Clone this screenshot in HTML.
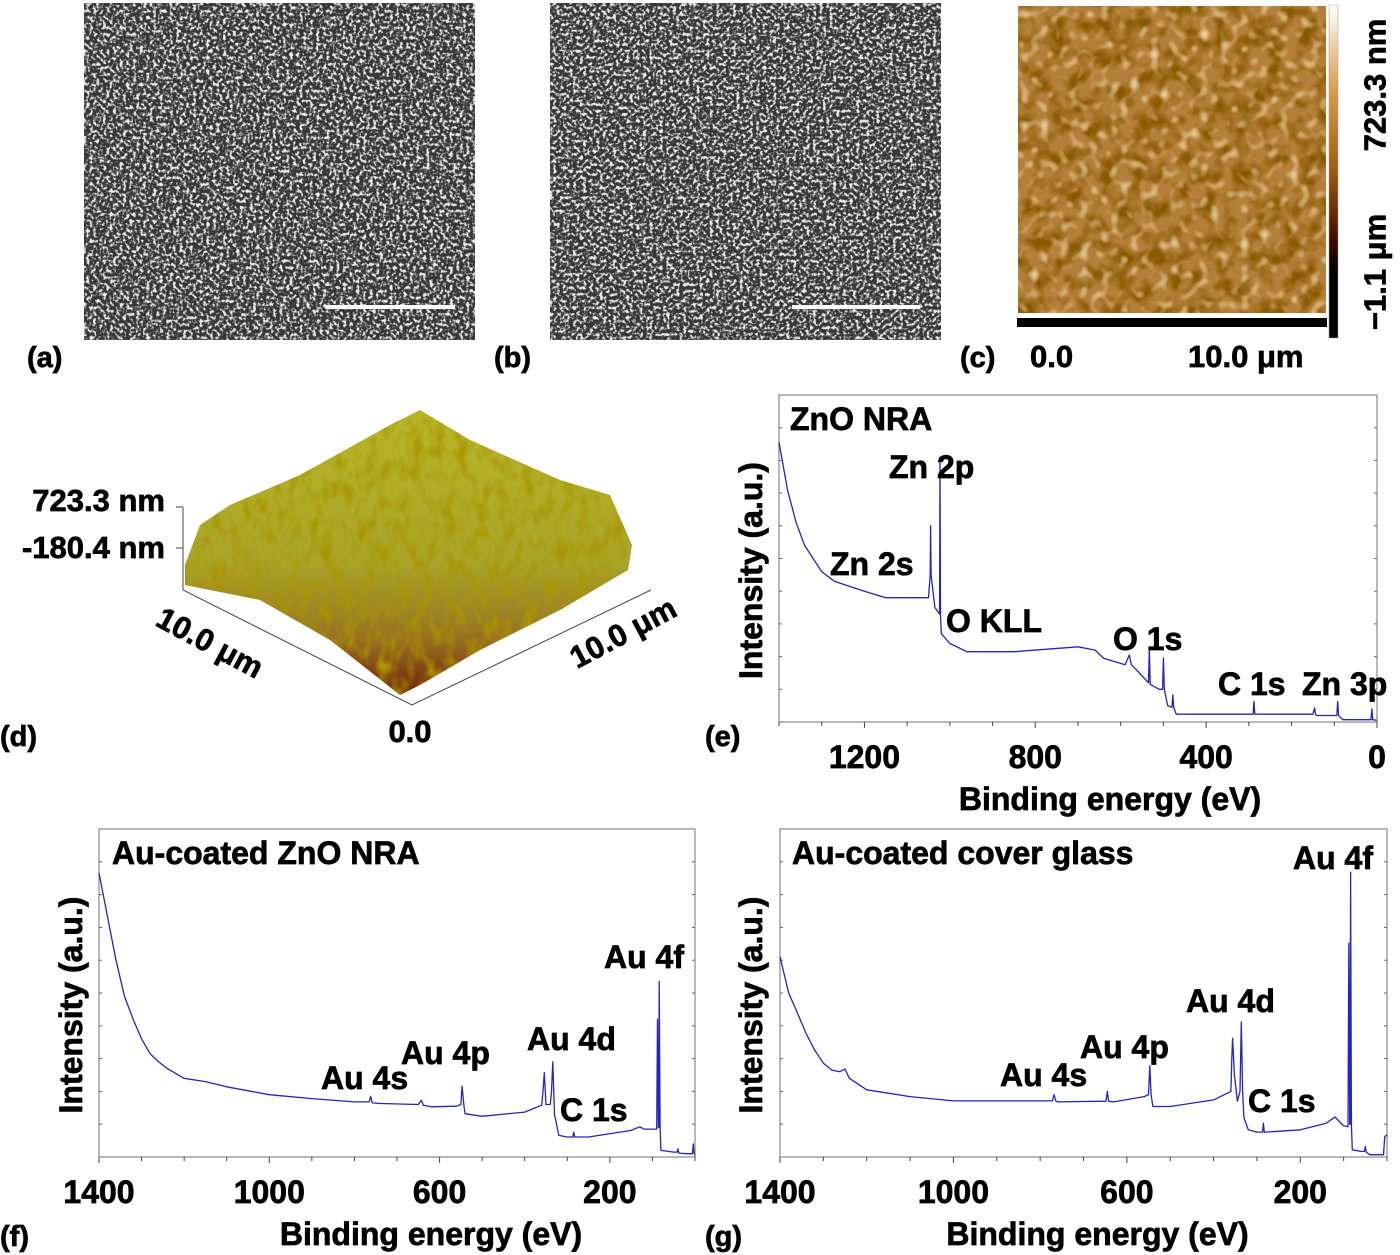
<!DOCTYPE html>
<html><head><meta charset="utf-8">
<style>
html,body{margin:0;padding:0;background:#fff;}
svg{display:block;font-family:"Liberation Sans",Arial,sans-serif;font-weight:bold;}
svg text{font-weight:bold;stroke:#000;stroke-width:0.7px;}
</style></head>
<body>
<svg id="fig" width="1400" height="1255" viewBox="0 0 1400 1255" xmlns="http://www.w3.org/2000/svg">
<defs>
  <filter id="semNoise" x="0" y="0" width="100%" height="100%">
    <feTurbulence type="fractalNoise" baseFrequency="0.3" numOctaves="2" seed="3" result="n"/>
    <feColorMatrix in="n" type="matrix" values="0 0 0 0 0  0 0 0 0 0  0 0 0 0 0  4.5 0 0 0 -2.1" result="a"/>
    <feFlood flood-color="#eeeeee" result="w"/>
    <feComposite in="w" in2="a" operator="in"/>
  </filter>
  <filter id="semNoise2" x="0" y="0" width="100%" height="100%">
    <feTurbulence type="fractalNoise" baseFrequency="0.3" numOctaves="2" seed="11" result="n"/>
    <feColorMatrix in="n" type="matrix" values="0 0 0 0 0  0 0 0 0 0  0 0 0 0 0  4.5 0 0 0 -2.1" result="a"/>
    <feFlood flood-color="#eeeeee" result="w"/>
    <feComposite in="w" in2="a" operator="in"/>
  </filter>
  <filter id="afmNoise" x="0" y="0" width="100%" height="100%">
    <feTurbulence type="fractalNoise" baseFrequency="0.06" numOctaves="2" seed="5" result="n"/>
    <feColorMatrix in="n" type="matrix" values="0 0 0 0 0.25  0 0 0 0 0.1  0 0 0 0 0  3.0 0 0 0 -1.2"/>
  </filter>
  <filter id="afmLight" x="0" y="0" width="100%" height="100%">
    <feTurbulence type="fractalNoise" baseFrequency="0.1" numOctaves="1" seed="9" result="n"/>
    <feColorMatrix in="n" type="matrix" values="0 0 0 0 0.95  0 0 0 0 0.78  0 0 0 0 0.5  2.6 0 0 0 -1.35"/>
  </filter>
  <filter id="bumpNoise" x="0" y="0" width="100%" height="100%">
    <feTurbulence type="fractalNoise" baseFrequency="0.09 0.05" numOctaves="2" seed="7" result="n"/>
    <feColorMatrix in="n" type="matrix" values="0 0 0 0 0.4  0 0 0 0 0.3  0 0 0 0 0  2.4 0 0 0 -1.0"/>
  </filter>
  <linearGradient id="cbar" x1="0" y1="0" x2="0" y2="1">
    <stop offset="0" stop-color="#ffffff"/>
    <stop offset="0.25" stop-color="#d8a050"/>
    <stop offset="0.5" stop-color="#a05a10"/>
    <stop offset="0.7" stop-color="#401000"/>
    <stop offset="0.8" stop-color="#000"/>
    <stop offset="1" stop-color="#000"/>
  </linearGradient>
  <linearGradient id="surf" x1="0" y1="0" x2="0" y2="1">
    <stop offset="0" stop-color="#b8b828"/>
    <stop offset="0.55" stop-color="#a8a428"/>
    <stop offset="0.8" stop-color="#987020"/>
    <stop offset="1" stop-color="#6a1a08"/>
  </linearGradient>
  <clipPath id="surfClip"><polygon points="185,565 200,525 230,505 300,475 390,425 420,410 470,440 560,480 610,495 632,545 628,570 560,610 480,650 420,685 400,695 330,640 260,600 185,585"/></clipPath>
</defs>

<!-- (a) SEM -->
<g>
  <rect x="84" y="3" width="391" height="337" fill="#363636"/>
  <rect x="84" y="3" width="391" height="337" filter="url(#semNoise)"/>
  <rect x="325" y="305" width="130" height="4" fill="#fff"/>
</g>
<!-- (b) SEM -->
<g>
  <rect x="550" y="3" width="391" height="337" fill="#363636"/>
  <rect x="550" y="3" width="391" height="337" filter="url(#semNoise2)"/>
  <rect x="792" y="305" width="128" height="4" fill="#fff"/>
</g>
<!-- (c) AFM -->
<g>
  <rect x="1018" y="6" width="308" height="307" fill="#b47f38"/>
  <rect x="1018" y="6" width="308" height="307" filter="url(#afmNoise)"/>
  <rect x="1018" y="6" width="308" height="307" filter="url(#afmLight)"/>
  <rect x="1017" y="318" width="310" height="9" fill="#000"/>
  <rect x="1329" y="5" width="9" height="333" fill="url(#cbar)" stroke="#999" stroke-width="0.5"/>
  <text x="1375" y="85" font-size="31" text-anchor="middle" transform="rotate(-90 1375 85)" dominant-baseline="central">723.3 nm</text>
  <text x="1375" y="272" font-size="31" text-anchor="middle" transform="rotate(-90 1375 272)" dominant-baseline="central">−1.1 μm</text>
  <text x="1030" y="367" font-size="31">0.0</text>
  <text x="1188" y="367" font-size="31">10.0 μm</text>
</g>
<!-- (d) 3D surface -->
<g>
  <g clip-path="url(#surfClip)">
    <rect x="180" y="400" width="460" height="300" fill="url(#surf)"/>
    <rect x="180" y="400" width="460" height="300" filter="url(#bumpNoise)"/>
  </g>
  <g stroke="#444" stroke-width="1" fill="none">
    <polyline points="183,507 183,590 412,705 651,590"/>
    <line x1="176" y1="507" x2="183" y2="507"/>
    <line x1="176" y1="548" x2="183" y2="548"/>
  </g>
  <text x="165" y="511" font-size="31" text-anchor="end">723.3 nm</text>
  <text x="165" y="558" font-size="31" text-anchor="end">-180.4 nm</text>
  <text x="205" y="652" font-size="31" text-anchor="middle" transform="rotate(28 205 652)">10.0 μm</text>
  <text x="628" y="642" font-size="31" text-anchor="middle" transform="rotate(-28 628 642)">10.0 μm</text>
  <text x="410" y="742" font-size="31" text-anchor="middle">0.0</text>
</g>

<!-- panel labels -->
<text x="27" y="367" font-size="29">(a)</text>
<text x="494" y="367" font-size="29">(b)</text>
<text x="960" y="367" font-size="29">(c)</text>
<text x="0" y="746" font-size="29">(d)</text>
<text x="705" y="746" font-size="29">(e)</text>
<text x="0" y="1246" font-size="29">(f)</text>
<text x="705" y="1246" font-size="29">(g)</text>

<g id="charts"></g>
</svg>
<script>
// ---- Chart data (binding energy eV, normalized intensity 0..1 of plot height) ----
const eEnergy = [1400,1380,1360,1340,1300,1270,1200,1150,1050,1046,1045,1044,1035,1024,1023,1022,1020,1000,960,850,700,660,640,590,580,575,560,535,533,531,510,502,500,498,490,480,478,476,470,300,290,288,286,150,146,144,142,100,94,92,90,80,14,12,10,0];
const eIntensity = [0.855,0.71,0.61,0.54,0.46,0.43,0.40,0.38,0.38,0.45,0.60,0.45,0.35,0.33,0.81,0.33,0.27,0.24,0.215,0.215,0.23,0.22,0.195,0.175,0.205,0.175,0.155,0.12,0.223,0.115,0.10,0.10,0.195,0.10,0.05,0.045,0.083,0.045,0.024,0.024,0.024,0.063,0.024,0.024,0.043,0.024,0.02,0.02,0.02,0.063,0.02,0.007,0.007,0.04,0.007,0.005];
const fEnergy = [1400,1380,1360,1340,1320,1300,1280,1260,1240,1200,1150,1100,1000,900,800,765,762,758,740,650,643,638,620,560,550,547,543,540,500,400,360,357,354,350,340,337,334,330,320,300,287,285,283,250,150,130,120,90,88,86,85,84,82,80,50,42,40,38,20,6,4,2,0];
const fIntensity = [0.866,0.733,0.60,0.49,0.42,0.36,0.315,0.29,0.27,0.24,0.23,0.214,0.19,0.178,0.168,0.168,0.185,0.165,0.163,0.16,0.173,0.158,0.153,0.155,0.16,0.216,0.16,0.132,0.124,0.137,0.158,0.2,0.257,0.16,0.16,0.2,0.29,0.13,0.066,0.061,0.061,0.076,0.061,0.061,0.081,0.092,0.085,0.085,0.42,0.09,0.09,0.535,0.09,0.02,0.015,0.015,0.025,0.012,0.01,0.01,0.04,0.01,0.005];
const gEnergy = [1400,1380,1360,1340,1320,1300,1280,1262,1250,1240,1200,1100,1000,800,772,768,764,760,648,645,642,630,560,550,547,544,540,500,400,360,358,356,352,345,339,336,333,330,320,300,287,285,283,280,200,140,120,100,90,88,86,85,84,82,80,60,52,50,48,40,8,5,2,0];
const gIntensity = [0.61,0.50,0.44,0.377,0.326,0.286,0.265,0.26,0.268,0.24,0.205,0.184,0.171,0.171,0.171,0.19,0.171,0.168,0.17,0.2,0.17,0.168,0.184,0.19,0.278,0.19,0.154,0.154,0.174,0.2,0.3,0.362,0.25,0.17,0.2,0.412,0.2,0.12,0.083,0.076,0.076,0.103,0.076,0.076,0.083,0.103,0.122,0.095,0.092,0.652,0.1,0.1,0.868,0.1,0.022,0.017,0.017,0.032,0.015,0.007,0.007,0.063,0.065,0.068];
const eTicks = [1200,800,400,0];
const fgTicks = [1400,1000,600,200];

const NS = "http://www.w3.org/2000/svg";
const root = document.getElementById('charts');
function mk(tag, attrs, parent){ const el=document.createElementNS(NS,tag); for(const k in attrs) el.setAttribute(k,attrs[k]); (parent||root).appendChild(el); return el; }

function drawChart(id, box, energies, intens, ticks, title, titlePos, ylabelX, peaks){
  const g = mk('g',{});
  
  
  const xScale = e => box.x0 + (1400 - e) / 1400 * (box.x1 - box.x0);
  const yScale = v => box.y1 - v * (box.y1 - box.y0);
  const frame = mk('rect',{x:box.x0,y:box.y0,width:box.x1-box.x0,height:box.y1-box.y0,fill:'none',stroke:'#888','stroke-width':1.2},g);
  
  
  for(let e=1400;e>=0;e-=100){
    const x=xScale(e); const major = ticks.indexOf(e)>=0;
    mk('line',{x1:x,y1:box.y1,x2:x,y2:box.y1+(major?6:4),stroke:'#444','stroke-width':1},g);
  }
  for(let i=1;i<10;i++){
    const y=box.y0+i*(box.y1-box.y0)/10;
    mk('line',{x1:box.x0,y1:y,x2:box.x0+3,y2:y,stroke:'#666','stroke-width':1},g);
    mk('line',{x1:box.x1,y1:y,x2:box.x1-3,y2:y,stroke:'#666','stroke-width':1},g);
  }
  ticks.forEach(t=>{
    const tl = mk('text',{x:xScale(t),y:box.y1+46,'font-size':32,'text-anchor':'middle'},g);
    tl.textContent = t;
    
    
  });
  let d='';
  energies.forEach((e,i)=>{ d += (i?'L':'M') + xScale(e).toFixed(1) + ',' + yScale(intens[i]).toFixed(1); });
  const path = mk('path',{d:d,fill:'none',stroke:'#2424c0','stroke-width':1.3,'stroke-linejoin':'round'},g);
  
  
  const xt = mk('text',{x:(box.x0+box.x1)/2+ (id==='e'?32:(id==='f'?34:14)) ,y:box.y1+88,'font-size':32,'text-anchor':'middle'},g);
  xt.textContent = 'Binding energy (eV)';
  
  
  const cy=(box.y0+box.y1)/2+12;
  const yt = mk('text',{x:ylabelX,y:cy,'font-size':32,'text-anchor':'middle',transform:'rotate(-90 '+ylabelX+' '+cy+')'},g);
  yt.textContent = 'Intensity (a.u.)';
  
  
  const tt = mk('text',{x:titlePos[0],y:titlePos[1],'font-size':32},g);
  tt.textContent = title;
  
  
  peaks.forEach(p=>{
    const pl = mk('text',{x:p[1],y:p[2],'font-size':32},g);
    pl.textContent = p[0];
    
    
  });
}

drawChart('e',{x0:779,x1:1377,y0:395,y1:722},eEnergy,eIntensity,eTicks,'ZnO NRA',[790,430],762,
  [['Zn 2p',889,478],['Zn 2s',830,575],['O KLL',946,632],['O 1s',1113,650],['C 1s',1218,695],['Zn 3p',1302,695]]);
drawChart('f',{x0:99,x1:695,y0:829,y1:1157},fEnergy,fIntensity,fgTicks,'Au-coated ZnO NRA',[112,864],82,
  [['Au 4f',604,968],['Au 4d',527,1050],['Au 4p',401,1064],['Au 4s',321,1089],['C 1s',560,1121]]);
drawChart('g',{x0:780,x1:1387,y0:829,y1:1157},gEnergy,gIntensity,fgTicks,'Au-coated cover glass',[792,864],762,
  [['Au 4f',1293,869],['Au 4d',1186,1012],['Au 4p',1080,1058],['Au 4s',1000,1086],['C 1s',1248,1112]]);
</script>
</body></html>
